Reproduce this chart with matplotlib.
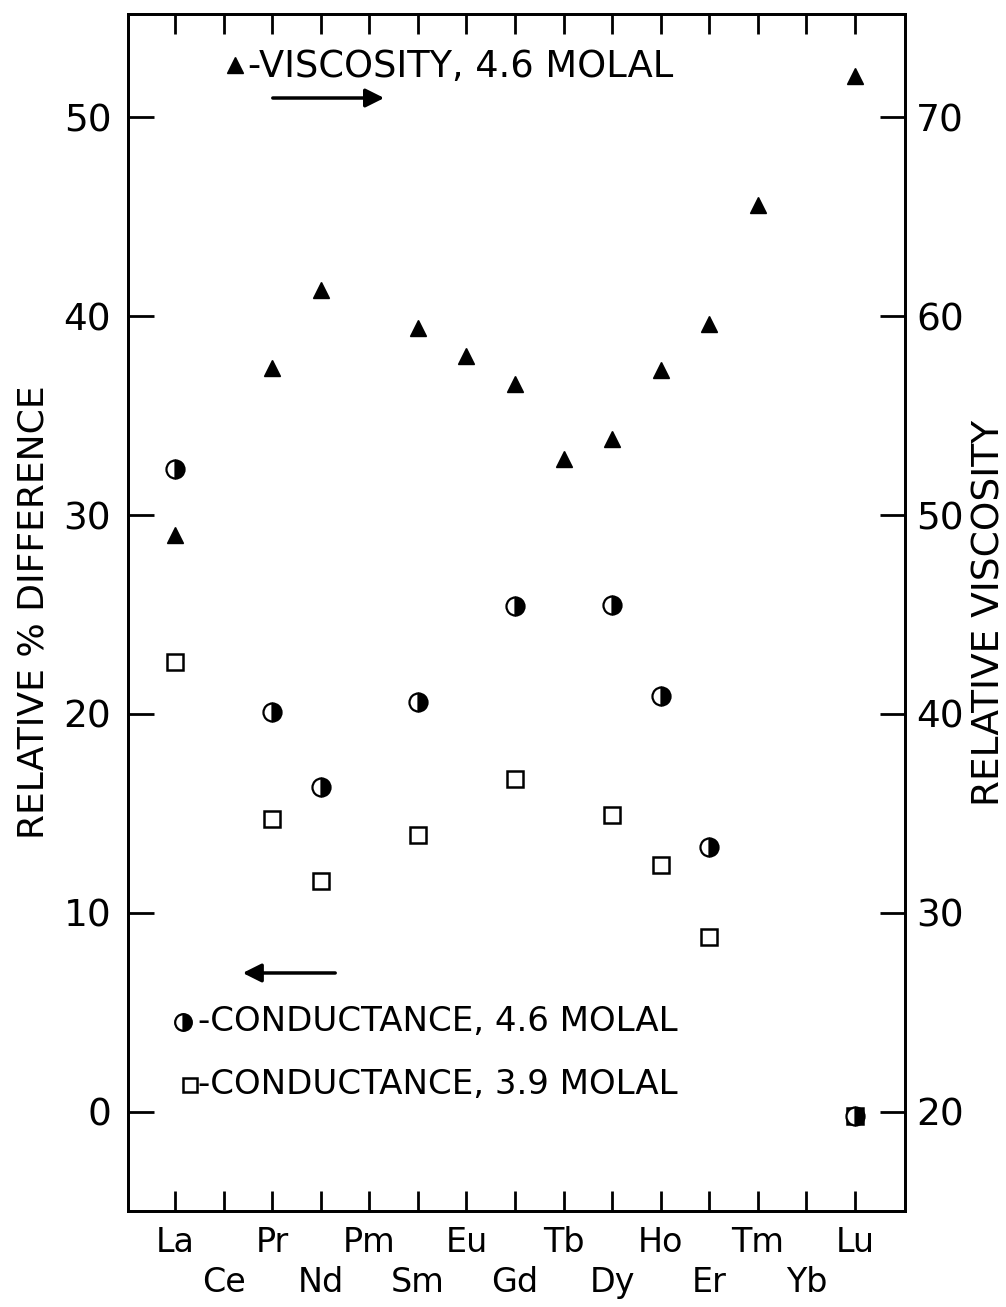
import numpy as np
import matplotlib
matplotlib.use('Agg')
import matplotlib.pyplot as plt

# lanthanide series along the x axis
elements = ['La', 'Ce', 'Pr', 'Nd', 'Pm', 'Sm', 'Eu', 'Gd',
            'Tb', 'Dy', 'Ho', 'Er', 'Tm', 'Yb', 'Lu']

# relative viscosity, 4.6 molal (right axis)
visc_elems = ['La', 'Pr', 'Nd', 'Sm', 'Eu', 'Gd', 'Tb', 'Dy', 'Ho', 'Er', 'Tm', 'Lu']
visc_vals = [49.0, 57.4, 61.3, 59.4, 58.0, 56.6, 52.8, 53.8, 57.3, 59.6, 65.6, 72.1]

# relative % difference of conductance, 4.6 molal (left axis)
cond46_elems = ['La', 'Pr', 'Nd', 'Sm', 'Gd', 'Dy', 'Ho', 'Er', 'Lu']
cond46_vals = [32.3, 20.1, 16.3, 20.6, 25.4, 25.5, 20.9, 13.3, -0.25]

# relative % difference of conductance, 3.9 molal (left axis)
cond39_elems = ['La', 'Pr', 'Nd', 'Sm', 'Gd', 'Dy', 'Ho', 'Er', 'Lu']
cond39_vals = [22.6, 14.7, 11.6, 13.9, 16.7, 14.9, 12.4, 8.8, -0.25]

left_ticks = [0, 10, 20, 30, 40, 50]
right_ticks = [20, 30, 40, 50, 60, 70]


def xpos(names):
    return [elements.index(n) for n in names]


plt.rcParams['font.family'] = 'DejaVu Sans'

fig = plt.figure(figsize=(10.06, 13.07), dpi=100)
ax = fig.add_axes([0.1272, 0.0735, 0.7724, 0.9158])
ax2 = ax.twinx()

ax.set_xlim(-0.97, 15.03)
ax.set_ylim(-5.0, 55.2)
ax2.set_ylim(15.0, 75.2)

# conductance points
ax.plot(xpos(cond39_elems), cond39_vals, linestyle='none', marker='s',
        markersize=11, markerfacecolor='white', markeredgecolor='black',
        markeredgewidth=1.8)
ax.plot(xpos(cond46_elems), cond46_vals, linestyle='none', marker='o',
        markersize=13, fillstyle='right', markerfacecolor='black',
        markerfacecoloralt='white', markeredgecolor='black',
        markeredgewidth=1.6)

# viscosity points
ax2.plot(xpos(visc_elems), visc_vals, linestyle='none', marker='^',
         markersize=12, color='black')

# spines and ticks
for a in (ax, ax2):
    for s in a.spines.values():
        s.set_linewidth(2)

ax.set_yticks(left_ticks)
ax.tick_params(axis='y', direction='in', length=18.5, width=2,
               labelsize=27, pad=12)
ax2.set_yticks(right_ticks)
ax2.tick_params(axis='y', direction='in', length=18, width=2,
                labelsize=27, pad=8)

even = list(range(0, len(elements), 2))
odd = list(range(1, len(elements), 2))
ax.set_xticks(even)
ax.set_xticklabels([elements[i] for i in even])
ax.set_xticks(odd, minor=True)
ax.set_xticklabels([elements[i] for i in odd], minor=True)
ax.tick_params(axis='x', which='both', direction='in', length=14.5, width=2,
               top=True, labelsize=24)
ax.tick_params(axis='x', which='major', pad=11)
ax.tick_params(axis='x', which='minor', pad=40)

ax.set_ylabel('RELATIVE % DIFFERENCE', fontsize=26)
ax.yaxis.set_label_coords(-0.100, 0.5)
ax2.set_ylabel('RELATIVE VISCOSITY', fontsize=27)
ax2.yaxis.set_label_coords(1.085, 0.5)

# key for the viscosity points
ax.plot([0.1377], [0.9574], transform=ax.transAxes, marker='^',
        markersize=12, color='black', clip_on=False)
ax.text(0.155, 0.9560, '-VISCOSITY, 4.6 MOLAL', transform=ax.transAxes,
        fontsize=26.5, ha='left', va='center')
ax.annotate('', xy=(0.3333, 0.9298), xytext=(0.1828, 0.9298),
            xycoords='axes fraction',
            arrowprops=dict(arrowstyle='-|>', color='black', lw=2.5,
                            mutation_scale=28))

# key for the conductance points
ax.annotate('', xy=(0.1441, 0.1988), xytext=(0.2703, 0.1988),
            xycoords='axes fraction',
            arrowprops=dict(arrowstyle='-|>', color='black', lw=2.5,
                            mutation_scale=28))
ax.plot([0.0708], [0.1579], transform=ax.transAxes, marker='o',
        markersize=12, fillstyle='right', markerfacecolor='black',
        markerfacecoloralt='white', markeredgecolor='black',
        markeredgewidth=1.6)
ax.text(0.0900, 0.1579, '-CONDUCTANCE, 4.6 MOLAL', transform=ax.transAxes,
        fontsize=24.5, ha='left', va='center')
ax.plot([0.0800], [0.1053], transform=ax.transAxes, marker='s',
        markersize=9.5, markerfacecolor='white', markeredgecolor='black',
        markeredgewidth=1.8)
ax.text(0.0900, 0.1053, '-CONDUCTANCE, 3.9 MOLAL', transform=ax.transAxes,
        fontsize=24.5, ha='left', va='center')

fig.savefig('out.png', dpi=100, facecolor='white')
